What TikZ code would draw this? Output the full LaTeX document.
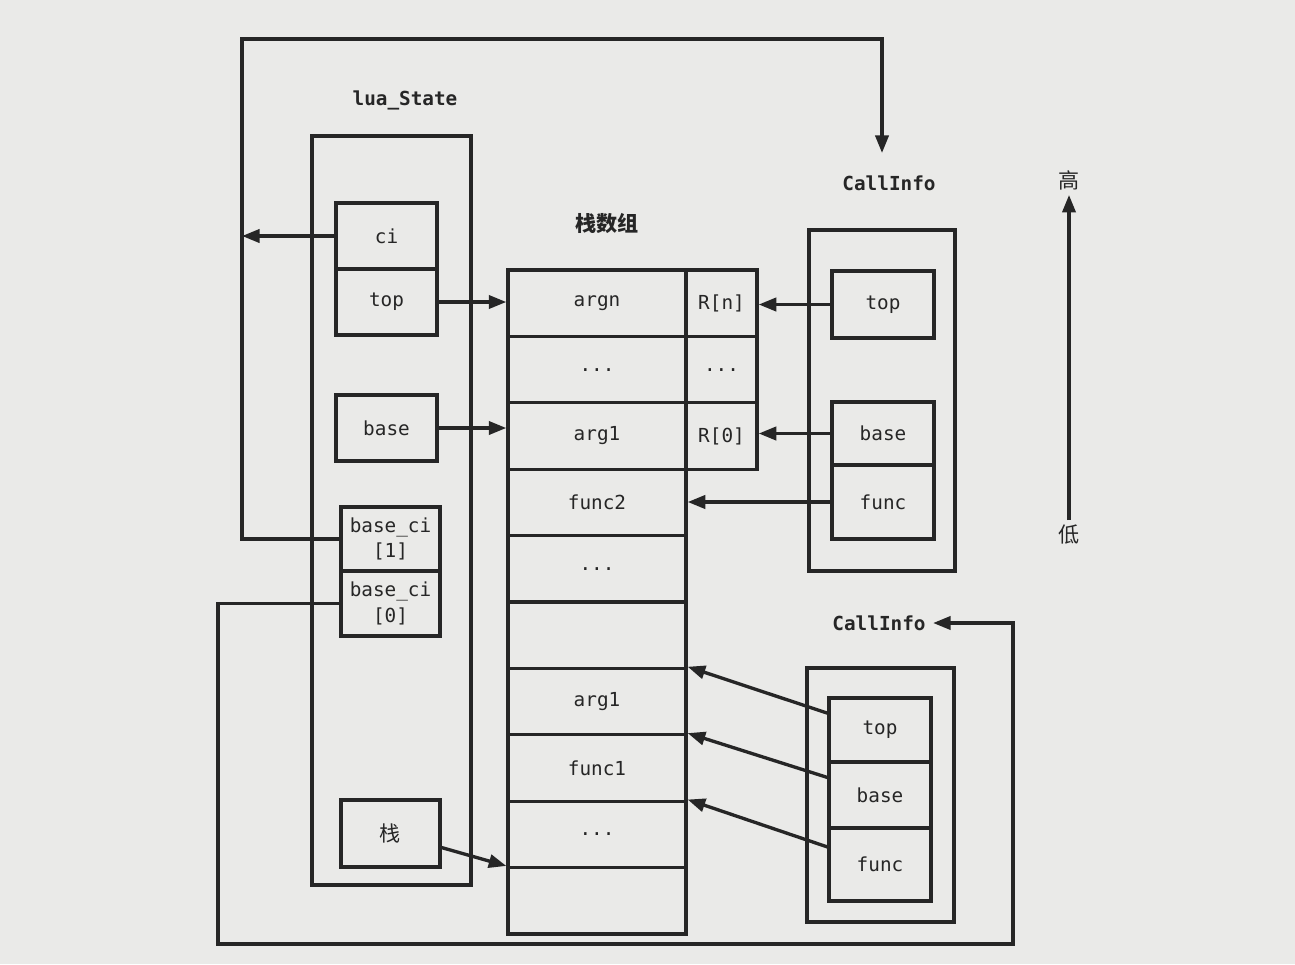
\documentclass[tikz,border=0pt]{standalone}
\usepackage{fontspec}
\usepackage{tikz}
\usetikzlibrary{arrows.meta}
\newfontfamily\codefont{DejaVu Sans Mono}
\newfontfamily\cjkfont{Noto Sans CJK SC}
\definecolor{paper}{RGB}{234,234,232}
\definecolor{ink}{RGB}{38,38,38}

\begin{document}
\begin{tikzpicture}[x=1cm,y=-1cm,>={Triangle[length=10pt,width=7.5pt]},
    line width=1.9pt,color=ink,
    txt/.style={font=\codefont\fontsize{11}{14.5}\selectfont},
    lbl/.style={font=\codefont\bfseries\fontsize{11}{14.5}\selectfont},
    hz/.style={font=\cjkfont\fontsize{12}{14}\selectfont},
    box/.style={draw,inner sep=0pt,txt},
    field/.style={box,minimum width=2.02cm,minimum height=1.32cm},
    slot/.style={box,minimum width=3.56cm,minimum height=1.328cm},
    reg/.style={box,minimum width=1.42cm,minimum height=1.328cm}]
        % Page
        \fill[paper] (0,0) rectangle (25.9,19.28);
        \useasboundingbox (0,0) rectangle (25.9,19.28);
        % lua_State
        \node[lbl] (lsname) at (8.1,2.0) {lua\_State};
        \node[draw,minimum width=3.18cm,minimum height=14.98cm] (lsbox) at (7.83,10.21) {};
        \node[field] (ci) at (7.73,4.72) {ci};
        \node[field] (top) at (7.73,6.04) {top};
        \node[field] (base) at (7.73,8.56) {base};
        \node[field,minimum width=1.98cm,minimum height=1.28cm,align=center] (bci1) at (7.81,10.78) {base\_ci\\{}[1]};
        \node[field,minimum width=1.98cm,minimum height=1.30cm,align=center] (bci0) at (7.81,12.07) {base\_ci\\{}[0]};
        \node[field,minimum width=1.98cm,minimum height=1.34cm,hz] (stk) at (7.81,16.67) {栈};
        % Stack array
        \node[hz,font=\cjkfont\bfseries\fontsize{12}{14}\selectfont] (arrname) at (12.14,4.46) {栈数组};
        \node[slot] (slot1) at (11.94,6.064) {argn};
        \node[slot] (slot2) at (11.94,7.392) {...};
        \node[slot] (slot3) at (11.94,8.72) {arg1};
        \node[slot] (slot4) at (11.94,10.048) {func2};
        \node[slot] (slot5) at (11.94,11.376) {...};
        \node[slot] (slot6) at (11.94,12.704) {};
        \node[slot] (slot7) at (11.94,14.032) {arg1};
        \node[slot] (slot8) at (11.94,15.36) {func1};
        \node[slot] (slot9) at (11.94,16.688) {...};
        \node[slot] (slot10) at (11.94,18.016) {};
        \node[reg] (regn) at (14.43,6.064) {R[n]};
        \node[reg] (regdots) at (14.43,7.392) {...};
        \node[reg] (reg0) at (14.43,8.72) {R[0]};
        % CallInfo (current)
        \node[lbl] (ci1name) at (17.78,3.66) {CallInfo};
        \node[draw,minimum width=2.92cm,minimum height=6.82cm] (ci1box) at (17.64,8.01) {};
        \node[field,minimum width=2.04cm,minimum height=1.34cm] (ci1top) at (17.66,6.09) {top};
        \node[field,minimum width=2.04cm,minimum height=1.26cm] (ci1base) at (17.66,8.67) {base};
        \node[field,minimum width=2.04cm,minimum height=1.48cm] (ci1func) at (17.66,10.04) {func};
        % CallInfo (previous)
        \node[lbl] (ci2name) at (17.58,12.46) {CallInfo};
        \node[draw,minimum width=2.94cm,minimum height=5.08cm] (ci2box) at (17.61,15.9) {};
        \node[field,minimum width=2.04cm,minimum height=1.28cm] (ci2top) at (17.6,14.6) {top};
        \node[field,minimum width=2.04cm,minimum height=1.32cm] (ci2base) at (17.6,15.9) {base};
        \node[field,minimum width=2.04cm,minimum height=1.46cm] (ci2func) at (17.6,17.29) {func};
        % Direction
        \node[hz,inner sep=2pt] (high) at (21.38,3.6) {高};
        \node[hz,inner sep=2pt] (low) at (21.38,10.7) {低};
        \draw[->] (low) -- (high);
        % Pointers
        \coordinate (tl) at (4.84,0.78);
        \coordinate (ci1in) at (17.64,3.06);
        \coordinate (bl) at (4.36,18.88);
        \coordinate (br) at (20.26,18.88);
        \draw[->] (bci1.west) -| (tl) -| (ci1in);
        \draw[->] (ci.west) -- (ci.west -| tl);
        \draw[->] (bci0.west) -| (bl) -- (br) |- (ci2name.east);
        \draw[->] (top.east) -- (top.east -| slot1.west);
        \draw[->] (base.east) -- (base.east -| slot3.west);
        \draw[->] ([yshift=-8pt]stk.east) -- (slot10.north west);
        \draw[->] (ci1top.west) -- (ci1top.west -| regn.east);
        \draw[->] (ci1base.west) -- (ci1base.west -| reg0.east);
        \draw[->] (ci1func.west) -- (ci1func.west -| slot4.east);
        \draw[->] ([yshift=9.6pt]ci2top.west) -- (slot7.north east);
        \draw[->] ([yshift=10pt]ci2base.west) -- (slot8.north east);
        \draw[->] ([yshift=10pt]ci2func.west) -- (slot9.north east);
\end{tikzpicture}
\end{document}
